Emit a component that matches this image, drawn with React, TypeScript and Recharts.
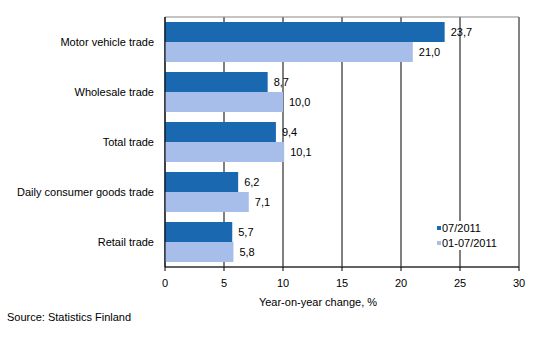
import React from "react";
import {
  BarChart,
  Bar,
  XAxis,
  YAxis,
  CartesianGrid,
  LabelList,
  ReferenceArea,
} from "recharts";

const categories = [
  "Motor vehicle trade",
  "Wholesale trade",
  "Total trade",
  "Daily consumer goods trade",
  "Retail trade",
];
const month072011 = [23.7, 8.7, 9.4, 6.2, 5.7];
const months01072011 = [21.0, 10.0, 10.1, 7.1, 5.8];
const xTicks = [0, 5, 10, 15, 20, 25, 30];
const seriesNames = ["07/2011", "01-07/2011"];

const DARK = "#1A68B0";
const LIGHT = "#A7BDEA";
const FONT = "'Liberation Sans', Arial, sans-serif";

const data = categories.map((name, i) => ({
  name,
  a: month072011[i],
  b: months01072011[i],
}));

const fmt = (v: any) => Number(v).toFixed(1).replace(".", ",");

const YTick = (props: any) => {
  const { x, y, payload } = props;
  return (
    <text
      x={x}
      y={y}
      dy="0.355em"
      textAnchor="end"
      fill="#000"
      fontSize={11}
      fontFamily={FONT}
    >
      {payload.value}
    </text>
  );
};

export default function App() {
  return (
    <div style={{ position: "absolute", left: 0, top: 0, width: 534, height: 360, background: "#fff" }}>
      <BarChart
        width={534}
        height={360}
        data={data}
        layout="vertical"
        margin={{ top: 17, right: 15, bottom: 48, left: 0 }}
        barCategoryGap="10%"
        barGap={0}
      >
        <CartesianGrid horizontal={false} vertical={true} stroke="#000" strokeWidth={1} />
        <ReferenceArea x1={0} x2={30} fill="none" stroke="#888" strokeWidth={1} ifOverflow="extendDomain" />
        <XAxis
          type="number"
          domain={[0, 30]}
          ticks={xTicks}
          interval={0}
          height={45}
          stroke="#000"
          axisLine={{ stroke: "#000" }}
          tickLine={{ stroke: "#000" }}
          tickSize={4}
          tickMargin={8}
          tick={{ fill: "#000", fontSize: 11, fontFamily: FONT }}
          label={{
            value: "Year-on-year change, %",
            position: "insideBottom",
            offset: 6,
            dx: -24,
            style: { fill: "#000", fontSize: 11, fontFamily: FONT },
          }}
        />
        <YAxis
          type="category"
          dataKey="name"
          width={165}
          axisLine={{ stroke: "#000" }}
          tickLine={false}
          tickMargin={5}
          interval={0}
          tick={<YTick />}
        />
        <Bar dataKey="a" name={seriesNames[0]} fill={DARK} isAnimationActive={false}>
          <LabelList
            dataKey="a"
            position="right"
            offset={6}
            formatter={fmt}
            style={{ fill: "#000", fontSize: 11, fontFamily: FONT }}
          />
        </Bar>
        <Bar dataKey="b" name={seriesNames[1]} fill={LIGHT} isAnimationActive={false}>
          <LabelList
            dataKey="b"
            position="right"
            offset={6}
            formatter={fmt}
            style={{ fill: "#000", fontSize: 11, fontFamily: FONT }}
          />
        </Bar>
      </BarChart>
      <div
        style={{
          position: "absolute",
          left: 437,
          top: 221,
          fontFamily: FONT,
          fontSize: 11,
          lineHeight: "14.6px",
          color: "#000",
          background: "#fff",
        }}
      >
        {seriesNames.map((n, i) => (
          <div key={n} style={{ display: "flex", alignItems: "center", whiteSpace: "nowrap" }}>
            <span
              style={{
                display: "inline-block",
                width: 4,
                height: 4,
                background: i === 0 ? DARK : LIGHT,
                marginRight: 1,
              }}
            />
            <span>{n}</span>
          </div>
        ))}
      </div>
      <div
        style={{
          position: "absolute",
          left: 7,
          top: 311,
          fontFamily: FONT,
          fontSize: 11,
          lineHeight: "13px",
          color: "#000",
          whiteSpace: "nowrap",
        }}
      >
        Source: Statistics Finland
      </div>
    </div>
  );
}
